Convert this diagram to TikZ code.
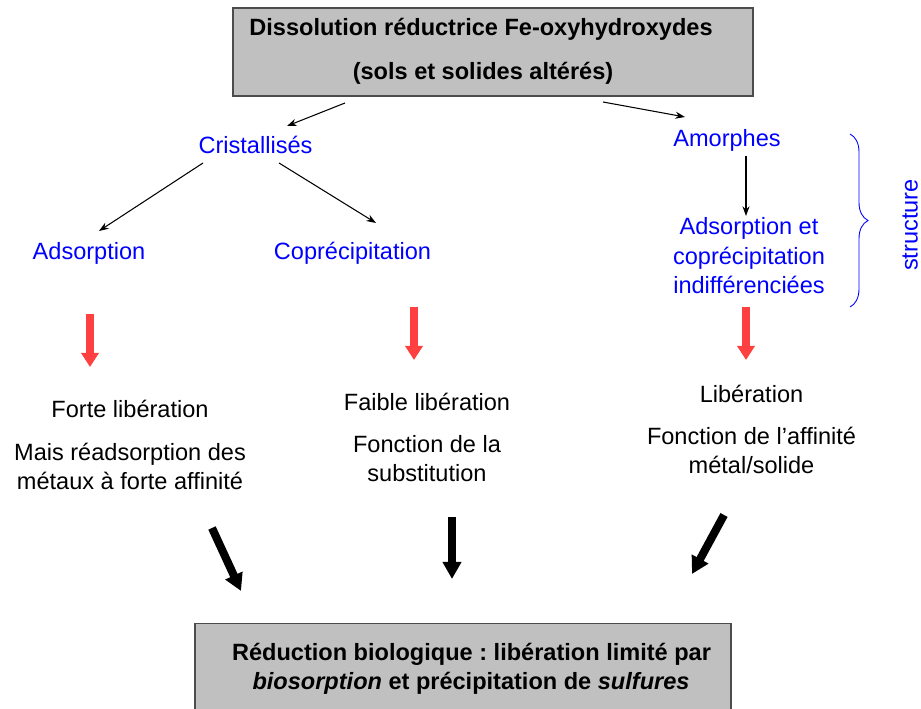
\documentclass[tikz,border=0pt]{standalone}
\usepackage{fontspec}
\setmainfont{Liberation Sans}
\usetikzlibrary{arrows.meta,decorations.pathreplacing}
\definecolor{gris}{HTML}{C0C0C0}
\definecolor{rouge}{HTML}{FF4040}
\frenchspacing
\begin{document}
\begin{tikzpicture}[
	txt/.style={inner sep=0pt,anchor=base,align=center,font=\fontsize{13.4}{16.6}\selectfont},
	bleu/.style={txt,text=blue,font=\fontsize{13.4}{16.8}\selectfont},
	gras/.style={txt,font=\fontsize{13.4}{16.5}\selectfont\bfseries},
	boite/.style={fill=gris,draw=black!70,line width=0.8pt,inner sep=0pt},
	fine/.style={line width=0.6pt,-{Stealth[length=5.5pt,width=4pt]}},
	rougefl/.style={draw=rouge,line width=5.1pt,-{Triangle[width=9.7pt,length=8pt]}},
	noirfl/.style={line width=4.6pt,-{Triangle[width=10.2pt,length=9.7pt]}}]
	\useasboundingbox (0,0) rectangle (18.42,14.18);
	\clip (0,0) rectangle (18.42,14.18);

	\node[boite,minimum width=10.4cm,minimum height=1.76cm] (dissol) at (9.86,13.14) {};
	\node[gras] (dissol1) at (9.62,13.46) {Dissolution réductrice Fe-oxyhydroxydes};
	\node[gras] (dissol2) at (9.66,12.58) {(sols et solides altérés)};

	\node[bleu] (cristal) at (5.11,11.10) {Cristallisés};
	\node[bleu] (amorph) at (14.54,11.24) {Amorphes};
	\node[bleu] (adsorp) at (1.78,8.98) {Adsorption};
	\node[bleu] (copreci) at (7.05,8.98) {Coprécipitation};
	\node[bleu] (indiff) at (14.98,8.30) {Adsorption et\\coprécipitation\\indifférenciées};
	\node[bleu,rotate=90,anchor=center] (struct) at (18.2,9.68) {structure};
	\draw[blue,line width=0.5pt,decorate,decoration={brace,amplitude=0.36cm}] (17.0,11.5) -- (17.0,8.04);

	\coordinate (d1) at (6.9,12.12);
	\coordinate (d2) at (12.06,12.14);
	\coordinate (cr) at (5.74,11.66);
	\coordinate (am) at (13.7,11.84);
	\coordinate (c1) at (4.06,10.92);
	\coordinate (c2) at (5.58,10.92);
	\coordinate (ad) at (1.98,9.56);
	\coordinate (co) at (7.52,9.72);
	\coordinate (a1) at (14.92,11.06);
	\coordinate (a2) at (14.92,9.86);
	\draw[fine] (d1) -- (cr);
	\draw[fine] (d2) -- (am);
	\draw[fine] (c1) -- (ad);
	\draw[fine] (c2) -- (co);
	\draw[fine] (a1) -- (a2);

	\foreach \x/\y in {1.8/7.90,8.28/8.04,14.92/8.04}
		\draw[rougefl] (\x,\y) -- (\x,\y-1.06);

	\node[txt] (forte) at (2.6,5.82) {Forte libération};
	\node[txt] (mais) at (2.6,4.38) {Mais réadsorption des\\métaux à forte affinité};
	\node[txt] (faible) at (8.54,5.96) {Faible libération};
	\node[txt] (subst) at (8.54,4.54) {Fonction de la\\substitution};
	\node[txt] (liber) at (15.03,6.12) {Libération};
	\node[txt] (affin) at (15.03,4.70) {Fonction de l’affinité\\métal/solide};

	\draw[noirfl] (4.24,3.62) -- (4.82,2.36);
	\draw[noirfl] (9.04,3.84) -- (9.04,2.60);
	\draw[noirfl] (14.48,3.88) -- (13.84,2.70);

	\node[boite,minimum width=10.72cm,minimum height=2.2cm,anchor=north] (reduc) at (9.26,1.72) {};
	\node[gras] (reduc1) at (9.43,0.96) {Réduction biologique : libération limité par};
	\node[gras] (reduc2) at (9.42,0.38) {\textit{biosorption} et précipitation de \textit{sulfures}};
\end{tikzpicture}
\end{document}
